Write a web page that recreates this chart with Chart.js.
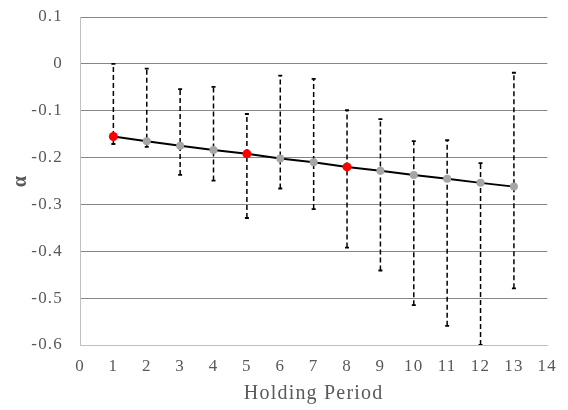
<!DOCTYPE html>
<html>
<head>
<meta charset="utf-8">
<script src="https://cdn.jsdelivr.net/npm/chart.js@4.4.0/dist/chart.umd.min.js"></script>
<style>
  html, body { margin: 0; padding: 0; background: #ffffff; }
  canvas { display: block; }
</style>
</head>
<body>
<canvas id="chart" width="568" height="410"></canvas>
<script>
// Holding periods and the estimated alpha for each
const periods = [1, 2, 3, 4, 5, 6, 7, 8, 9, 10, 11, 12, 13];
const alpha = [-0.155, -0.165, -0.175, -0.184, -0.192, -0.202, -0.210, -0.220, -0.228, -0.237, -0.245, -0.254, -0.262];
// Upper and lower ends of the interval around each estimate
const upper = [0.000, -0.010, -0.054, -0.049, -0.107, -0.025, -0.032, -0.099, -0.118, -0.165, -0.163, -0.212, -0.019];
const lower = [-0.171, -0.177, -0.237, -0.249, -0.329, -0.266, -0.310, -0.392, -0.441, -0.515, -0.559, -0.600, -0.479];
// Periods whose estimate is marked in red
const highlighted = [1, 5, 8];
// Axis ticks
const xTickValues = [0, 1, 2, 3, 4, 5, 6, 7, 8, 9, 10, 11, 12, 13, 14];
const yTickValues = [-0.6, -0.5, -0.4, -0.3, -0.2, -0.1, 0, 0.1];

const serif = '"Liberation Serif", "Times New Roman", serif';
const labelGrey = '#595959';

const estimatePoints = periods.map((p, i) => ({ x: p, y: alpha[i] }));
const pointColors = periods.map(p => highlighted.includes(p) ? '#ff0000' : '#a6a6a6');
const pointSizes = periods.map(p => highlighted.includes(p) ? 4.5 : 4);

// Each interval is a two-point segment; a null point breaks the line between them
const intervalPoints = [];
periods.forEach((p, i) => {
  intervalPoints.push({ x: p, y: lower[i] });
  intervalPoints.push({ x: p, y: upper[i] });
  intervalPoints.push({ x: p, y: null });
});

// Slightly wider letter spacing for all axis text
const wideText = {
  id: 'wideText',
  beforeLayout(chart) { chart.ctx.letterSpacing = '1.2px'; },
  beforeDraw(chart) { chart.ctx.letterSpacing = '1.2px'; }
};

new Chart(document.getElementById('chart'), {
  type: 'scatter',
  plugins: [wideText],
  data: {
    datasets: [
      {
        label: 'alpha',
        data: estimatePoints,
        showLine: true,
        borderColor: '#000000',
        borderWidth: 2,
        pointBackgroundColor: pointColors,
        pointBorderWidth: 0,
        pointRadius: pointSizes,
        order: 0
      },
      {
        label: 'interval',
        data: intervalPoints,
        showLine: true,
        spanGaps: false,
        borderColor: '#000000',
        borderWidth: 1.5,
        borderDash: [5, 3],
        pointStyle: 'line',
        pointRadius: 2,
        pointBorderColor: '#000000',
        pointBorderWidth: 1.8,
        order: 1
      }
    ]
  },
  options: {
    responsive: false,
    animation: false,
    events: [],
    layout: { autoPadding: false, padding: { top: 17, right: 18, left: 0, bottom: 0 } },
    plugins: {
      legend: { display: false },
      tooltip: { enabled: false }
    },
    scales: {
      x: {
        type: 'linear',
        min: 0,
        max: 14,
        afterBuildTicks: axis => { axis.ticks = xTickValues.map(v => ({ value: v })); },
        afterFit: axis => { axis.height = 65; },
        grid: { display: false, drawTicks: false },
        border: { display: true, color: '#bfbfbf', width: 1 },
        ticks: {
          color: labelGrey,
          font: { family: serif, size: 17 },
          padding: 11,
          maxRotation: 0,
          autoSkip: false
        },
        title: {
          display: true,
          text: 'Holding Period',
          color: labelGrey,
          font: { family: serif, size: 20 },
          padding: { top: 0, bottom: 4 }
        }
      },
      y: {
        type: 'linear',
        min: -0.6,
        max: 0.1,
        afterBuildTicks: axis => { axis.ticks = yTickValues.map(v => ({ value: v })); },
        afterFit: axis => {
          axis.width = 80;
          axis.paddingTop = 10;
          axis.paddingBottom = 10;
        },
        grid: { color: '#868686', lineWidth: 1, drawTicks: false },
        border: { display: true, color: '#bfbfbf', width: 1 },
        ticks: {
          color: labelGrey,
          font: { family: serif, size: 17 },
          padding: 17,
          callback: v => (Math.abs(v) < 1e-9 ? '0' : v.toFixed(1))
        },
        title: {
          display: true,
          text: 'α',
          color: labelGrey,
          font: { family: serif, size: 20, weight: 'bold' },
          padding: { top: 9, bottom: 0 }
        }
      }
    }
  }
});
</script>
</body>
</html>
